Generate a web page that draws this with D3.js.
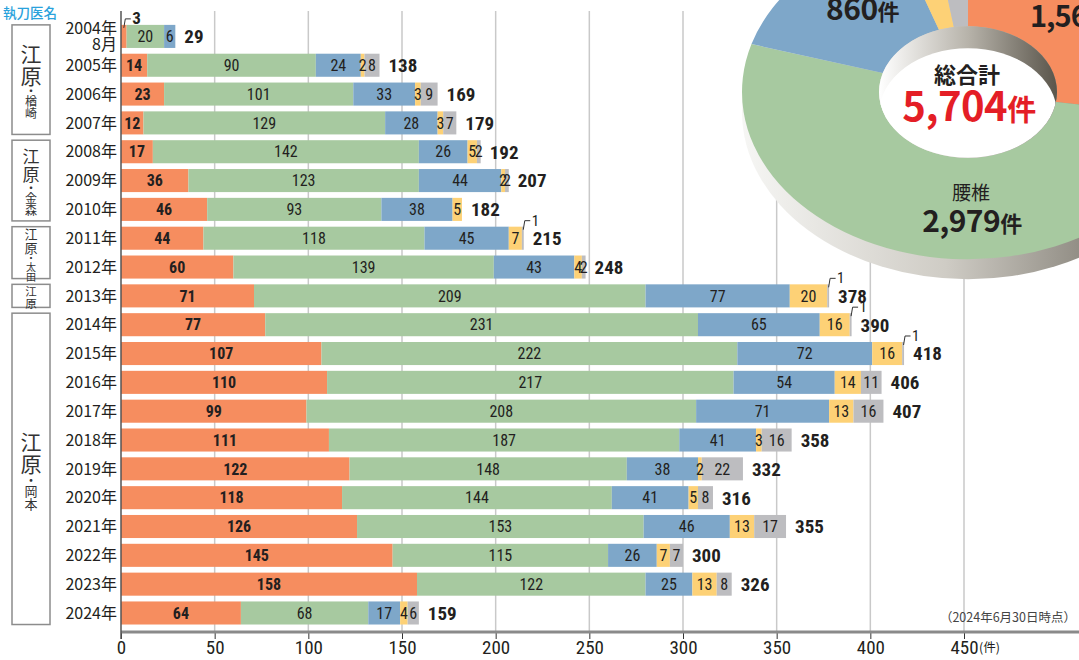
<!DOCTYPE html>
<html>
<head>
<meta charset="UTF-8">
<title>執刀件数の推移</title>
<style>
  body { margin: 0; padding: 0; background: #fff; }
  text { font-family: "Noto Sans CJK JP", sans-serif; fill: #231f20; }
  .num { font-family: "Liberation Sans Narrow", "Roboto Condensed", "Noto Sans CJK JP", sans-serif; }
</style>
</head>
<body>
<svg width="1079" height="660"></svg>
<script src="https://d3js.org/d3.v7.min.js"></script>
<script>

var years = ["2004年|8月", "2005年", "2006年", "2007年", "2008年", "2009年", "2010年",
  "2011年", "2012年", "2013年", "2014年", "2015年", "2016年", "2017年", "2018年",
  "2019年", "2020年", "2021年", "2022年", "2023年", "2024年"]

var orangeVals = [3, 14, 23, 12, 17, 36, 46, 44, 60, 71, 77, 107, 110, 99, 111, 122, 118, 126, 145, 158, 64]
var greenVals = [20, 90, 101, 129, 142, 123, 93, 118, 139, 209, 231, 222, 217, 208, 187, 148, 144, 153, 115, 122, 68]
var blueVals = [6, 24, 33, 28, 26, 44, 38, 45, 43, 77, 65, 72, 54, 71, 41, 38, 41, 46, 26, 25, 17]
var yellowVals = [0, 2, 3, 3, 5, 2, 5, 7, 4, 20, 16, 16, 14, 13, 3, 2, 5, 13, 7, 13, 4]
var grayVals = [0, 8, 9, 7, 2, 2, 0, 1, 2, 1, 1, 1, 11, 16, 16, 22, 8, 17, 7, 8, 6]

var xTicks = [0, 50, 100, 150, 200, 250, 300, 350, 400, 450]

var surgeons = [
  { main: "江原", partner: "楢崎", from: "2004年|8月", to: "2007年", big: 21, small: 12 },
  { main: "江原", partner: "金森", from: "2008年", to: "2010年", big: 17, small: 12 },
  { main: "江原", partner: "太田", from: "2011年", to: "2012年", big: 13, small: 10 },
  { main: "江原", partner: "", from: "2013年", to: "2013年", big: 11.5, small: 0 },
  { main: "江原", partner: "岡本", from: "2014年", to: "2024年", big: 21, small: 13 }
]

var pieLabels = ["", "腰椎", "", "", ""]

var keys = ["orange", "green", "blue", "yellow", "gray"]
var colors = { orange: "#f68d5f", green: "#a7c9a0", blue: "#7ea7c9", yellow: "#fdd176", gray: "#bdbdc0" }

var rows = years.map((y, i) => ({
  year: y, orange: orangeVals[i], green: greenVals[i], blue: blueVals[i],
  yellow: yellowVals[i], gray: grayVals[i]
}))
rows.forEach(d => { d.total = keys.reduce((s, k) => s + d[k], 0) })

var svg = d3.select("svg")

var x = d3.scaleLinear().domain([0, 450]).range([121, 964])
var y = d3.scaleBand().domain(years).range([22, 627.4]).paddingInner(0.2).paddingOuter(0.1)
var axisY = 632

// grid
svg.append("g").selectAll("line")
  .data(xTicks.filter(t => t > 0))
  .enter().append("line")
  .attr("x1", d => x(d)).attr("x2", d => x(d))
  .attr("y1", 11).attr("y2", axisY)
  .style("stroke", "#c9c9c9").style("stroke-width", 1.5)

// stacked bars
var series = d3.stack().keys(keys)(rows)

var layers = svg.append("g").selectAll("g.layer")
  .data(series)
  .enter().append("g")
  .attr("class", "layer")
  .style("fill", d => colors[d.key])

layers.selectAll("rect")
  .data(d => d.filter(s => s[1] > s[0]))
  .enter().append("rect")
  .attr("x", d => x(d[0]))
  .attr("width", d => x(d[1]) - x(d[0]))
  .attr("y", d => y(d.data.year))
  .attr("height", y.bandwidth())

function isCallout(v, k) {
  return v === 1 || (k === "orange" && v < 5)
}

// segment labels
series.forEach(s => {
  s.forEach(d => {
    var v = d[1] - d[0]
    if (v <= 0) return
    var top = y(d.data.year)
    if (isCallout(v, s.key)) {
      var px = s.key === "orange" ? x(d[0] + v / 2) : x(d[1]) - 0.5
      svg.append("path")
        .attr("d", "M" + px + "," + (top + 3) + " L" + (px + 1.5) + "," + (top - 6) + " L" + (px + 7) + "," + (top - 6))
        .style("fill", "none").style("stroke", "#333").style("stroke-width", 1)
      svg.append("text")
        .attr("class", "num")
        .attr("x", px + 8.5).attr("y", top - 1)
        .style("font-size", s.key === "orange" ? "17px" : "15px")
        .style("font-weight", s.key === "orange" ? "bold" : "normal")
        .text(v)
      return
    }
    svg.append("text")
      .attr("class", "num")
      .attr("x", x(d[0] + v / 2))
      .attr("y", top + y.bandwidth() / 2)
      .attr("dy", "0.36em")
      .style("text-anchor", "middle")
      .style("font-size", "16px")
      .style("font-weight", s.key === "orange" ? "bold" : "normal")
      .text(v)
  })
})

// totals
svg.append("g").selectAll("text")
  .data(rows)
  .enter().append("text")
  .attr("class", "num")
  .attr("x", d => x(d.total) + 9)
  .attr("y", d => y(d.year) + y.bandwidth() / 2)
  .attr("dy", "0.36em")
  .style("font-size", "19px")
  .style("font-weight", "bold")
  .text(d => d.total)

// year labels
var yl = svg.append("g").selectAll("text")
  .data(years)
  .enter().append("text")
  .attr("x", 117)
  .attr("y", d => y(d) + y.bandwidth() / 2)
  .style("text-anchor", "end")
  .style("font-size", "16px")
yl.each(function (d) {
  var parts = d.split("|")
  var t = d3.select(this)
  if (parts.length === 1) {
    t.attr("dy", "0.36em").text(d)
  } else {
    t.append("tspan").attr("x", 117).attr("dy", "-0.15em").text(parts[0])
    t.append("tspan").attr("x", 117).attr("dy", "1.0em").text(parts[1])
  }
})

// x axis
var xAxis = d3.axisBottom(x).tickValues(xTicks).tickSize(7).tickPadding(2)
var ax = svg.append("g").attr("transform", "translate(0," + axisY + ")").call(xAxis)
ax.select(".domain").remove()
ax.selectAll(".tick line").style("stroke", "#333").style("stroke-width", 1)
ax.selectAll(".tick text")
  .attr("class", "num")
  .style("font-size", "19px")
  .style("fill", "#231f20")

svg.append("line")
  .attr("x1", 121).attr("x2", 1079).attr("y1", axisY).attr("y2", axisY)
  .style("stroke", "#8a8a8a").style("stroke-width", 3)

svg.append("line")
  .attr("x1", 121).attr("x2", 121).attr("y1", 11).attr("y2", axisY + 7)
  .style("stroke", "#555").style("stroke-width", 1.5)

svg.append("text")
  .attr("x", 979).attr("y", 652)
  .style("font-size", "12.5px")
  .text("(件)")

svg.append("text")
  .attr("x", 1076).attr("y", 622)
  .style("text-anchor", "end")
  .style("font-size", "12.5px")
  .style("fill", "#444")
  .text("（2024年6月30日時点）")

// surgeon boxes
svg.append("text")
  .attr("x", 3).attr("y", 18)
  .style("font-size", "13.5px")
  .style("fill", "#2aa2dc")
  .style("font-weight", "500")
  .text("執刀医名")

surgeons.forEach(s => {
  var top = y(s.from), bottom = y(s.to) + y.bandwidth()
  svg.append("rect")
    .attr("x", 12).attr("y", top)
    .attr("width", 38).attr("height", bottom - top)
    .style("fill", "none").style("stroke", "#8c8c8c").style("stroke-width", 1.5)

  var chars = s.main.split("").map(c => ({ c: c, size: s.big, step: s.big + 1 }))
  if (s.partner) {
    chars.push({ c: "・", size: s.small, step: s.small * 0.75 })
    s.partner.split("").forEach(c => chars.push({ c: c, size: s.small, step: s.small }))
  }
  var h = d3.sum(chars, d => d.step)
  var cy = (top + bottom) / 2 - h / 2 + 2
  chars.forEach(d => {
    svg.append("text")
      .attr("x", 31).attr("y", cy + d.step / 2)
      .attr("dy", "0.36em")
      .style("text-anchor", "middle")
      .style("font-size", d.size + "px")
      .style("fill", "#333")
      .text(d.c)
    cy += d.step
  })
})

// 3D donut
var pcx = 968, pcy = 92, R = 226, r = 89, sy = 0.74, T = 20

var defs = svg.append("defs")
var wallGrad = defs.append("linearGradient").attr("id", "wall")
  .attr("gradientUnits", "userSpaceOnUse")
  .attr("x1", pcx - R).attr("x2", pcx + R).attr("y1", 0).attr("y2", 0)
wallGrad.append("stop").attr("offset", "0").attr("stop-color", "#f6f6f4")
wallGrad.append("stop").attr("offset", "0.45").attr("stop-color", "#cfccc5")
wallGrad.append("stop").attr("offset", "1").attr("stop-color", "#5f5a50")

var holeGrad = defs.append("linearGradient").attr("id", "hole")
  .attr("gradientUnits", "userSpaceOnUse")
  .attr("x1", pcx - r).attr("x2", pcx + r).attr("y1", 0).attr("y2", 0)
holeGrad.append("stop").attr("offset", "0").attr("stop-color", "#ffffff")
holeGrad.append("stop").attr("offset", "0.5").attr("stop-color", "#b7b3aa")
holeGrad.append("stop").attr("offset", "1").attr("stop-color", "#5a554b")

defs.append("clipPath").attr("id", "holeClip")
  .append("ellipse").attr("cx", pcx).attr("cy", pcy).attr("rx", r).attr("ry", r * sy)

var donut = svg.append("g")
donut.append("ellipse")
  .attr("cx", pcx).attr("cy", pcy + T).attr("rx", R).attr("ry", R * sy)
  .style("fill", "url(#wall)")
donut.append("rect")
  .attr("x", pcx - R).attr("y", pcy).attr("width", 2 * R).attr("height", T)
  .style("fill", "url(#wall)")

var pieData = keys.map((k, i) => ({ key: k, value: d3.sum(rows, d => d[k]), label: pieLabels[i] }))
var grand = d3.sum(pieData, d => d.value)
var pie = d3.pie().sort(null).value(d => d.value)
var arc = d3.arc().innerRadius(r).outerRadius(R)

donut.append("g")
  .attr("transform", "translate(" + pcx + "," + pcy + ") scale(1," + sy + ")")
  .selectAll("path")
  .data(pie(pieData))
  .enter().append("path")
  .attr("d", arc)
  .style("fill", d => colors[d.data.key])

donut.append("ellipse")
  .attr("cx", pcx).attr("cy", pcy).attr("rx", r).attr("ry", r * sy)
  .style("fill", "url(#hole)")
donut.append("ellipse")
  .attr("clip-path", "url(#holeClip)")
  .attr("cx", pcx).attr("cy", pcy + T + 2).attr("rx", r).attr("ry", r * sy)
  .style("fill", "#fff")

var fmt = d3.format(",")

function bigLabel(xp, yp, val, size, anchor, color, spacing) {
  var t = svg.append("text")
    .attr("x", xp).attr("y", yp)
    .style("text-anchor", anchor)
    .style("font-weight", "bold")
    .style("font-size", size + "px")
    .style("letter-spacing", (spacing || 0) + "px")
    .style("fill", color || "#231f20")
  t.append("tspan").text(fmt(val)).style("fill", color || "#231f20")
  t.append("tspan").text("件").style("font-size", Math.round(size * 0.72) + "px").style("fill", color || "#231f20")
  return t
}

bigLabel(826, 20, pieData[2].value, 30, "start", null, -0.5)
bigLabel(1030, 27, pieData[0].value, 29, "start", null, -1)

svg.append("text")
  .attr("x", 971).attr("y", 200)
  .style("text-anchor", "middle")
  .style("font-size", "19px")
  .text(pieData[1].label)
bigLabel(972, 232, pieData[1].value, 30, "middle", null, -0.5)

svg.append("text")
  .attr("x", 967).attr("y", 83)
  .style("text-anchor", "middle")
  .style("font-size", "22px")
  .style("font-weight", "bold")
  .text("総合計")
bigLabel(969, 121, grand, 40, "middle", "#e41e26", -0.5)

</script>
</body>
</html>
